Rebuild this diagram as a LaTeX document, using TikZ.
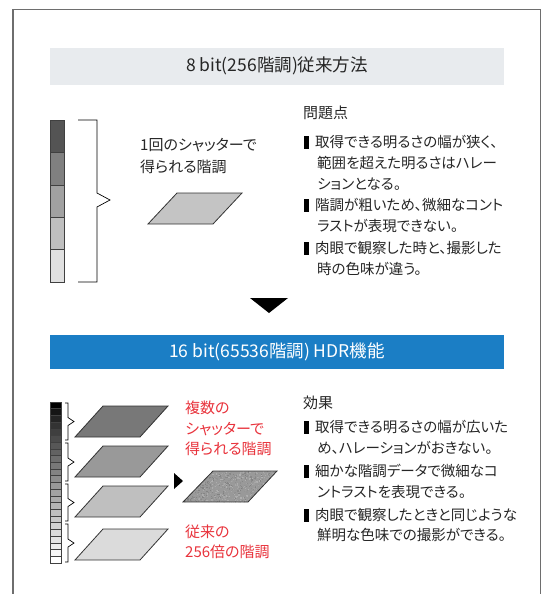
\documentclass[tikz,border=0pt]{standalone}
\usepackage{fontspec}
\setmainfont[CharacterWidth=AlternateProportional]{Noto Sans CJK JP}

\definecolor{framegray}{HTML}{6E6E6E}
\definecolor{headgray}{HTML}{E8EBEE}
\definecolor{hdrblue}{HTML}{1B7EC5}
\definecolor{bodytext}{HTML}{262626}
\definecolor{notered}{HTML}{E8333C}

\begin{document}
\begin{tikzpicture}[x=1pt, y=-1pt,
  txt/.style={anchor=west, inner sep=0pt, text=bodytext, font=\fontsize{15}{17}\selectfont},
  listtxt/.style={txt, font=\fontsize{14.5}{17}\selectfont},
  redtxt/.style={txt, text=notered},
  headtxt/.style={inner sep=0pt, font=\fontsize{17.5}{19}\selectfont},
  plate/.style={draw=black!80, line width=0.8pt},
  bracket/.style={draw=black, line width=0.7pt},
  cellbox/.style={draw=black!75, line width=0.6pt}]
\useasboundingbox (0,0) rectangle (542,594);

% frame (open at the bottom)
\draw[framegray, line width=1.2pt] (13,594) -- (13,9.5) -- (540.5,9.5) -- (540.5,594);

% ---------- 8 bit ----------
\fill[headgray] (50,48) rectangle (504,85);
\node[headtxt, text=bodytext] (head8) at (277,66) {8 bit(256階調)従来方法};

% 5-step grey bar and its bracket
\foreach \i/\g in {0/67, 1/50, 2/37, 3/25, 4/12}
  \draw[cellbox, fill=black!\g] (50,{120+\i*32.4}) rectangle +(14,32.4);
\draw[bracket] (78,120) -- (97,120) -- (97,193) -- (110,200) -- (97,207) -- (97,282) -- (78,282);

\node[txt] (once1) at (140,145) {1回のシャッターで};
\node[txt] (once2) at (140,167) {得られる階調};
\draw[plate, fill=black!23] (177,193) -- (242,193) -- (213,224) -- (148,224) -- cycle;

% problems
\node[txt] (probhead) at (303,113) {問題点};
\foreach \y in {142, 205, 248}
  \fill (304,\y-6.5) rectangle +(5,13);
\node[listtxt] (prob1a) at (315,142) {取得できる明るさの幅が狭く、};
\node[listtxt] (prob1b) at (317,163) {範囲を超えた明るさはハレー};
\node[listtxt] (prob1c) at (317,184) {ションとなる。};
\node[listtxt] (prob2a) at (315,205) {階調が粗いため、微細なコント};
\node[listtxt] (prob2b) at (317,226) {ラストが表現できない。};
\node[listtxt] (prob3a) at (315,248) {肉眼で観察した時と、撮影した};
\node[listtxt] (prob3b) at (317,269) {時の色味が違う。};

% down arrow
\fill (250,298) -- (288,298) -- (269,313) -- cycle;

% ---------- 16 bit ----------
\fill[hdrblue] (50,335) rectangle (504,369);
\node[headtxt, text=white] (head16) at (277,352) {16 bit(65536階調) HDR機能};

% 24-step grey bar with four brackets
\foreach \i in {0,...,23} {
  \pgfmathsetmacro\lv{100*((\i+0.001)/23)^0.8}
  \draw[cellbox, fill=white!\lv!black] (50,{402+\i*6.708}) rectangle +(11,6.708);
}
\foreach \t/\b in {403/440, 443/481, 484/521, 524/562} {
  \pgfmathsetmacro\m{(\t+\b)/2}
  \draw[bracket] (65,\t) -- (68,\t) -- (68,\m-4) -- (74,\m) -- (68,\m+4) -- (68,\b) -- (65,\b);
}

% one plate per shutter
\foreach \yt/\g in {406/53, 446/40, 486/25, 529/14}
  \draw[plate, fill=black!\g] (103,\yt) -- (168,\yt) -- (140,\yt+31) -- (75,\yt+31) -- cycle;

\fill (174,473) -- (183,481) -- (174,489) -- cycle;

% merged plate, grainy
\begin{scope}
  \clip (213,471) -- (277,471) -- (248,502) -- (183,502) -- cycle;
  \fill[black!40] (183,471) rectangle (277,502);
  \pgfmathsetseed{7}
  \foreach \k in {1,...,900} {
    \pgfmathsetmacro\nx{183+94*rnd}
    \pgfmathsetmacro\ny{471+31*rnd}
    \pgfmathsetmacro\ng{30+20*rnd}
    \fill[black!\ng] (\nx,\ny) rectangle +(1.2,1.2);
  }
\end{scope}
\draw[plate] (213,471) -- (277,471) -- (248,502) -- (183,502) -- cycle;

\node[redtxt] (multi1) at (185,408) {複数の};
\node[redtxt] (multi2) at (185,429) {シャッターで};
\node[redtxt] (multi3) at (185,449) {得られる階調};
\node[redtxt] (times1) at (185,532) {従来の};
\node[redtxt] (times2) at (185,552) {256倍の階調};

% effects
\node[txt] (effhead) at (303,403) {効果};
\foreach \y in {427, 471, 515}
  \fill (304,\y-6.5) rectangle +(5,13);
\node[listtxt] (eff1a) at (315,427) {取得できる明るさの幅が広いた};
\node[listtxt] (eff1b) at (317,448) {め、ハレーションがおきない。};
\node[listtxt] (eff2a) at (315,471) {細かな階調データで微細なコ};
\node[listtxt] (eff2b) at (317,492) {ントラストを表現できる。};
\node[listtxt] (eff3a) at (315,515) {肉眼で観察したときと同じような};
\node[listtxt] (eff3b) at (317,535) {鮮明な色味での撮影ができる。};
\end{tikzpicture}
\end{document}
